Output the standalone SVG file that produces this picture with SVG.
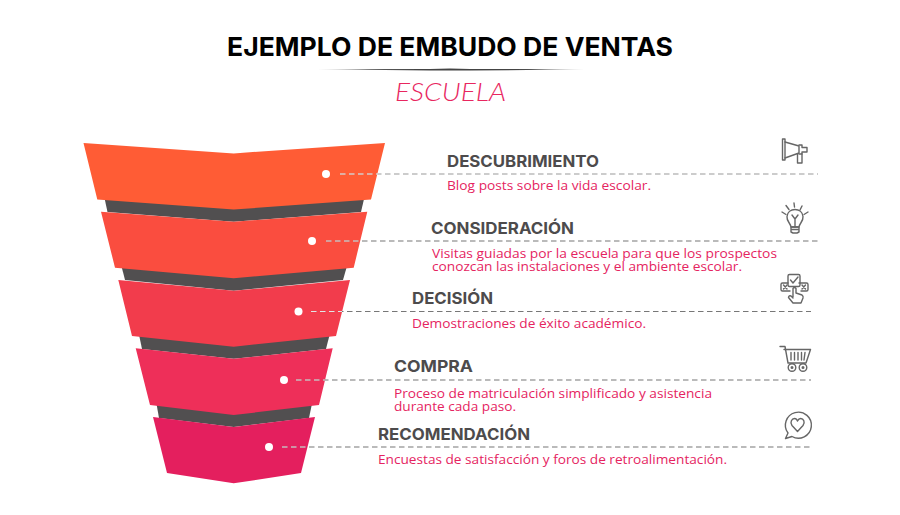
<svg xmlns="http://www.w3.org/2000/svg" width="900" height="515" viewBox="0 0 900 515">
<defs>
<linearGradient id="rule" x1="0" x2="1" y1="0" y2="0"><stop offset="0" stop-color="#555" stop-opacity="0.35"/><stop offset="0.2" stop-color="#444"/><stop offset="0.8" stop-color="#444"/><stop offset="1" stop-color="#555" stop-opacity="0.35"/></linearGradient>
</defs>
<style>
text{font-family:"Open Sans","Liberation Sans",sans-serif}
.h{font-family:Inter,"Liberation Sans",sans-serif;font-size:16px;font-weight:700;fill:#4d4b4c}
.b{font-size:12px;fill:#e5245f}
.d{fill:#514f50}
.dot{fill:#fff}
.c{fill:none;stroke:#777;stroke-width:1.2;stroke-dasharray:5.5 3.5}
.w{fill:none;stroke:#fff;stroke-width:1.2;stroke-dasharray:5.5 3.5;opacity:.8}
.i{fill:none;stroke:#666;stroke-width:1.4;stroke-linejoin:round;stroke-linecap:round}
</style>
<rect width="900" height="515" fill="#fff"/>
<g id="title">
<text x="227" y="55.500" font-size="26" textLength="446" lengthAdjust="spacingAndGlyphs" style="font-family:Inter,'Liberation Sans',sans-serif;font-weight:700;fill:#000">EJEMPLO DE EMBUDO DE VENTAS</text>
<path d="M317 69.300L430 69L450 68.400L470 69L585 69.300L470 70.600L430 70.600Z" fill="url(#rule)"/>
<text x="395" y="101" font-size="25" font-style="italic" textLength="111" lengthAdjust="spacingAndGlyphs" style="font-family:Lato,'Liberation Sans',sans-serif;font-weight:300;fill:#e8275f">ESCUELA</text>
</g>
<g id="funnel-shadows">
<path class="d" d="M104.700 199L364 199L361 212L233.700 221.800L107.500 212Z"/>
<path class="d" d="M121.700 267L346.700 267L343 280L233.700 290.800L125 280Z"/>
<path class="d" d="M139.300 336L329.300 336L326 349L233.700 358.800L142 349Z"/>
<path class="d" d="M156.700 405L311.700 405L309 418L233.700 427L159 418Z"/>
</g>
<g id="descubrimiento">
<path fill="#ff5c35" d="M83.500 143L233.700 153.400L385 143L371 199.500L233.700 209.500L97.300 199.500Z"/>
<circle class="dot" cx="326" cy="174" r="4"/>
<text class="h" x="447" y="166.500" textLength="152" lengthAdjust="spacingAndGlyphs">DESCUBRIMIENTO</text>
<text class="b" x="447" y="190" textLength="204" lengthAdjust="spacingAndGlyphs">Blog posts sobre la vida escolar.</text>
<g class="i"><path d="M782.500 139L785 139L785 160L782.500 160Z"/><path d="M785 142L799 146L799 153L785 158"/><path d="M799 145L802 145L802 147.500L807 147.500L807 152L802 152L802 154L799 154"/><path d="M797.500 154L797.500 163L802 163L802 154"/></g>
</g>
<g id="consideracion">
<path fill="#fa4d3f" d="M101 211.700L233.700 221.800L367.300 211.700L353.700 267.700L233.700 278.300L115 267.700Z"/>
<circle class="dot" cx="312" cy="241" r="4"/>
<text class="h" x="431" y="233.500" textLength="143" lengthAdjust="spacingAndGlyphs">CONSIDERACIÓN</text>
<text class="b" x="432" y="258" textLength="345" lengthAdjust="spacingAndGlyphs">Visitas guiadas por la escuela para que los prospectos</text>
<text class="b" x="432" y="271" textLength="310" lengthAdjust="spacingAndGlyphs">conozcan las instalaciones y el ambiente escolar.</text>
<g class="i"><path d="M791 227C790.500 223 786.500 221.500 787 216.500C787.500 212 791 209.500 795 209.500C799 209.500 802.500 212 803 216.500C803.500 221.500 799.500 223 799 227Z"/><path d="M791 227L799 227L799 232L797 233L793 233L791 232ZM791 229.500L799 229.500"/><path d="M795 227L795 219L792 215M795 219L798 215"/><path d="M782 212L786 214.500M786 205.500L789 209.500M794 203L794.500 207M802 206L800 210M808 212L804 214.500"/></g>
</g>
<g id="decision">
<path fill="#f23c4c" d="M118.300 280L233.700 290.800L350 280L336 336L233.700 346.700L132 336Z"/>
<circle class="dot" cx="298.500" cy="311.500" r="4"/>
<text class="h" x="412" y="304" textLength="81" lengthAdjust="spacingAndGlyphs">DECISIÓN</text>
<text class="b" x="412" y="328" textLength="234" lengthAdjust="spacingAndGlyphs">Demostraciones de éxito académico.</text>
<g class="i"><rect x="788" y="274.500" width="12" height="12" rx="1.500"/><path d="M790.500 280L793 283L798 277"/><path d="M788 283L782.500 283Q781 283 781 284.500L781 289.500Q781 291 782.500 291L790 291M799 283L806.500 283Q808 283 808 284.500L808 289.500Q808 291 806.500 291L801 291"/><path d="M783.500 285L787 289M787 285L783.500 289M802 285L805.500 289M805.500 285L802 289"/><path d="M793 297L793 288.500Q794.500 286.500 796 288.500L796 293L802 295Q803.500 296 803 298L801 303L793 303L788.500 297.500Q789 295 791 296L793 298"/></g>
</g>
<g id="compra">
<path fill="#ee2f59" d="M135.700 348.300L233.700 358.800L332.700 348.300L319 405L233.700 415L150 405Z"/>
<circle class="dot" cx="284" cy="380" r="4"/>
<text class="h" x="394" y="372" textLength="79" lengthAdjust="spacingAndGlyphs">COMPRA</text>
<text class="b" x="394" y="398" textLength="318" lengthAdjust="spacingAndGlyphs">Proceso de matriculación simplificado y asistencia</text>
<text class="b" x="394" y="411" textLength="122" lengthAdjust="spacingAndGlyphs">durante cada paso.</text>
<g class="i"><path d="M780 346.500L785 346.500L788 363L806 363L810.500 349.500L784 349.500"/><path d="M791 352.500L791 360M794.500 352.500L794.500 360M798 352.500L798 360M801.500 352.500L801.500 360M805 352.500L804 360"/><circle cx="792" cy="367.500" r="3.800"/><circle cx="803" cy="367.500" r="3.800"/><circle cx="792" cy="367.500" r="0.800"/><circle cx="803" cy="367.500" r="0.800"/></g>
</g>
<g id="recomendacion">
<path fill="#e41f5e" d="M153 417L233.700 427L315 417L301 473L233.700 483.300L167 473Z"/>
<circle class="dot" cx="269" cy="447" r="4"/>
<text class="h" x="378" y="439.500" textLength="152" lengthAdjust="spacingAndGlyphs">RECOMENDACIÓN</text>
<text class="b" x="378" y="464" textLength="349" lengthAdjust="spacingAndGlyphs">Encuestas de satisfacción y foros de retroalimentación.</text>
<g class="i"><path d="M788 433A13 13 0 1 1 792 436.500L785.500 438.500Z"/><path d="M797.500 431.500L792 425.500C789.500 422 792 418.500 794.500 418.500C796 418.500 797 419.500 797.500 421C798.200 419.500 799.200 418.500 800.700 418.500C803.500 418.500 805.500 422 803 425.500Z"/></g>
</g>
<g id="connectors">
<path class="c" style="stroke:#999" d="M340 174H818"/>
<path class="c" d="M326 241H818"/>
<path class="c" d="M311 311.500H811"/>
<path class="c" d="M296 380H811"/>
<path class="c" d="M282 447H811"/>
<path class="w" d="M340 174H378"/>
<path class="w" d="M326 241H360"/>
<path class="w" d="M311 311.500H342"/>
<path class="w" d="M296 380H325"/>
<path class="w" d="M282 447H308"/>
</g>
</svg>
